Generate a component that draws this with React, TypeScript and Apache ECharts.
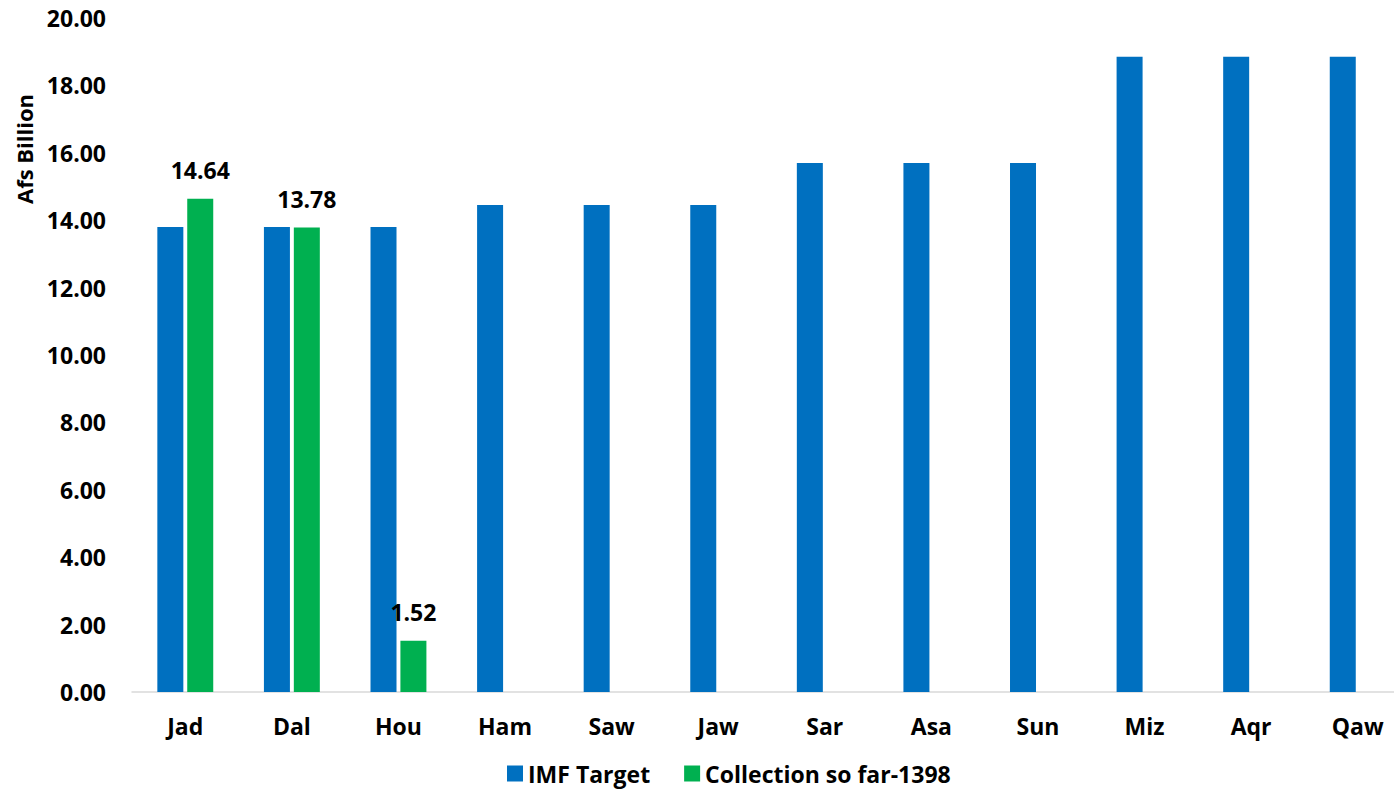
import React, { useEffect, useRef } from "react";
import * as echarts from "echarts";

const categories = ["Jad", "Dal", "Hou", "Ham", "Saw", "Jaw", "Sar", "Asa", "Sun", "Miz", "Aqr", "Qaw"];
const imfTarget = [13.8, 13.8, 13.8, 14.45, 14.45, 14.45, 15.7, 15.7, 15.7, 18.85, 18.85, 18.85];
const collection = [14.64, 13.78, 1.52, null, null, null, null, null, null, null, null, null];
const seriesNames = ["IMF Target", "Collection so far-1398"];
const yTitle = "Afs Billion";

const FONT = "'Open Sans', 'Liberation Sans', sans-serif";

export default function App() {
  const ref = useRef<HTMLDivElement>(null);
  useEffect(() => {
    if (!ref.current) return;
    const chart = echarts.init(ref.current, null, { renderer: "svg" });
    chart.setOption({
      animation: false,
      backgroundColor: "#ffffff",
      textStyle: { fontFamily: FONT },
      grid: { left: 132, right: 0, top: 18, bottom: 101, containLabel: false },
      legend: {
        left: 502,
        top: 757,
        itemWidth: 16,
        itemHeight: 16,
        itemGap: 34,
        icon: "rect",
        textStyle: { fontFamily: FONT, fontSize: 23, fontWeight: "bold", color: "#000" },
        data: seriesNames,
      },
      graphic: [
        {
          type: "text",
          x: 24,
          y: 149,
          rotation: Math.PI / 2,
          style: {
            text: yTitle,
            font: `bold 22px ${FONT}`,
            fill: "#000",
            textAlign: "center",
            textVerticalAlign: "middle",
          },
        },
      ],
      xAxis: {
        type: "category",
        data: categories,
        axisLine: { show: true, lineStyle: { color: "#D9D9D9", width: 1.5 } },
        axisTick: { show: false },
        axisLabel: { fontFamily: FONT, fontSize: 23, fontWeight: "bold", color: "#000", margin: 22 },
      },
      yAxis: {
        type: "value",
        min: 0,
        max: 20,
        interval: 2,
        axisLine: { show: false },
        axisTick: { show: false },
        splitLine: { show: false },
        axisLabel: {
          fontFamily: FONT,
          fontSize: 23,
          fontWeight: "bold",
          color: "#000",
          margin: 26,
          formatter: (v: number) => v.toFixed(2),
        },
      },
      series: [
        {
          name: seriesNames[0],
          type: "bar",
          data: imfTarget,
          barWidth: 26,
          barGap: "15%",
          itemStyle: { color: "#0070C0" },
        },
        {
          name: seriesNames[1],
          type: "bar",
          data: collection,
          barWidth: 26,
          barGap: "15%",
          itemStyle: { color: "#00B050" },
          label: {
            show: true,
            position: "top",
            distance: 17,
            fontFamily: FONT,
            fontSize: 23,
            fontWeight: "bold",
            color: "#000",
            formatter: (p: any) => (p.value == null ? "" : Number(p.value).toFixed(2)),
          },
        },
      ],
    });
    return () => chart.dispose();
  }, []);
  return (
    <div
      style={{ position: "fixed", left: 0, top: 0, width: 1394, height: 793, overflow: "hidden", background: "#fff" }}
    >
      <div ref={ref} style={{ width: 1411, height: 793 }} />
    </div>
  );
}
